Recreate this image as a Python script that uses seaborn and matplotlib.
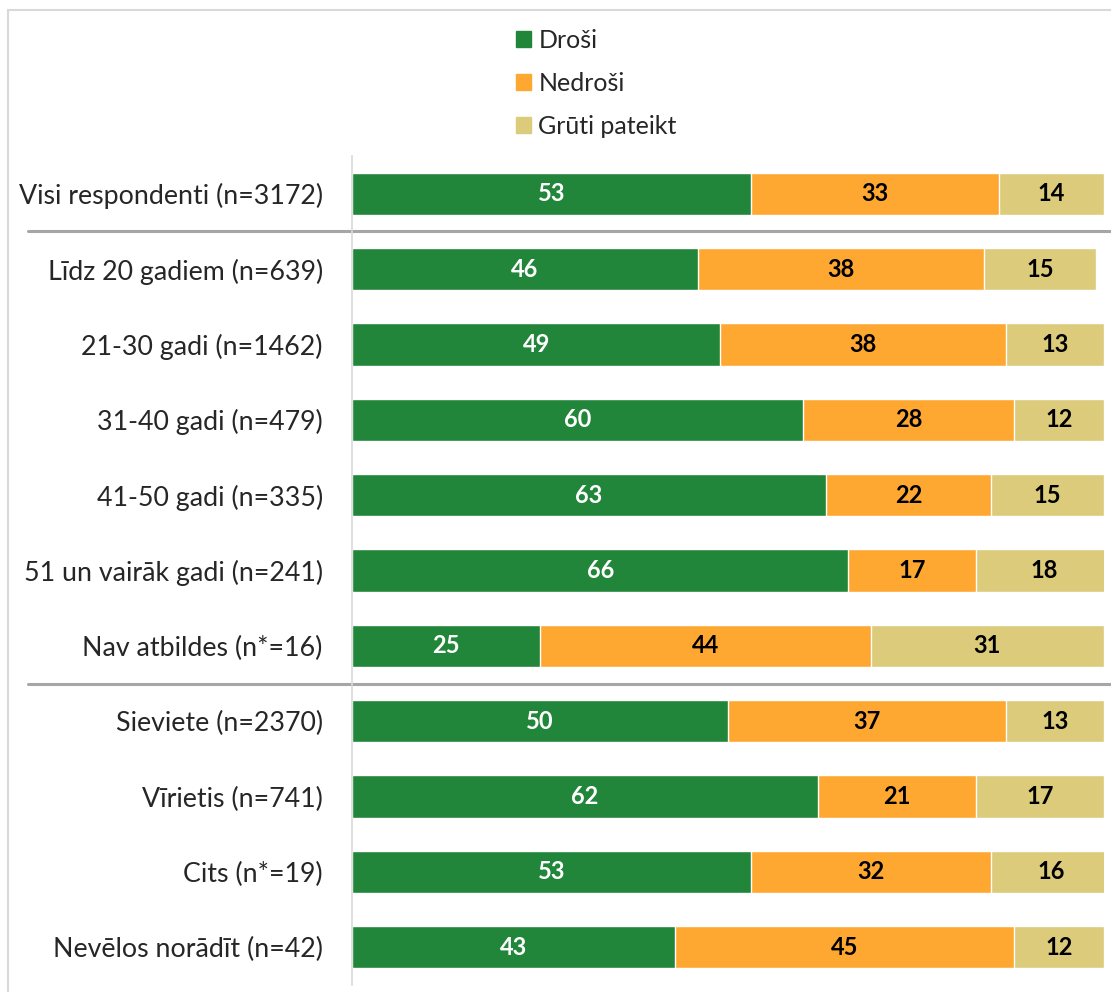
import numpy as np
import pandas as pd
import matplotlib.pyplot as plt
import matplotlib.transforms as mtransforms
from matplotlib.patches import Rectangle, Patch
import seaborn as sns

groups = ['Visi respondenti (n=3172)', 'Līdz 20 gadiem (n=639)', '21-30 gadi (n=1462)',
          '31-40 gadi (n=479)', '41-50 gadi (n=335)', '51 un vairāk gadi (n=241)',
          'Nav atbildes (n*=16)', 'Sieviete (n=2370)', 'Vīrietis (n=741)',
          'Cits (n*=19)', 'Nevēlos norādīt (n=42)']
drosi = [53, 46, 49, 60, 63, 66, 25, 50, 62, 53, 43]
nedrosi = [33, 38, 38, 28, 22, 17, 44, 37, 21, 32, 45]
gruti = [14, 15, 13, 12, 15, 18, 31, 13, 17, 16, 12]
series = ['Droši', 'Nedroši', 'Grūti pateikt']
colors = ['#22863A', '#FEA832', '#DBCB7A']
text_colors = ['white', 'black', 'black']
separators = [0.5, 6.5]

sns.set_style('white')
plt.rcParams['font.family'] = ['Lato', 'DejaVu Sans']

df = pd.DataFrame({'group': groups, series[0]: drosi, series[1]: nedrosi, series[2]: gruti})
cum = df[series].cumsum(axis=1)

fig = plt.figure(figsize=(11.11, 9.92), dpi=100)
ax = fig.add_axes([352 / 1111, 7 / 992, 752 / 1111, 829 / 992])

# stacked bars: draw cumulative totals back to front
for s, c in reversed(list(zip(series, colors))):
    sns.barplot(data=cum.assign(group=df['group']), x=s, y='group', orient='h',
                color=c, width=0.56, saturation=1, ax=ax, label=s)

# value labels centered in each segment
for s, tc in zip(series, text_colors):
    for i, (v, end) in enumerate(zip(df[s], cum[s])):
        ax.text(end - v / 2, i, str(v), ha='center', va='center', color=tc,
                fontsize=17, fontweight='bold')

ax.set_xlim(0, 100)
ax.set_ylim(len(groups) - 0.5, -0.5)
ax.set_xlabel('')
ax.set_ylabel('')
ax.set_xticks([])
ax.tick_params(axis='y', length=0, pad=21, labelsize=19.3, labelcolor='#262626')
for sp in ['top', 'right', 'bottom']:
    ax.spines[sp].set_visible(False)
ax.spines['left'].set_color('#D9D9D9')
ax.spines['left'].set_linewidth(1.2)

trans = mtransforms.blended_transform_factory(ax.transAxes, ax.transData)
for y in separators:
    ax.plot([-324 / 752, 1.02], [y, y], color='#A6A6A6', lw=2.2, transform=trans, clip_on=False)

ax.legend([Patch(color=c) for c in colors], series, loc='upper left',
          bbox_to_anchor=(516 / 1111, 1 - 29 / 992), bbox_transform=fig.transFigure,
          frameon=False, fontsize=18, handlelength=0.6, handleheight=0.6,
          handletextpad=0.3, labelspacing=0.8, borderaxespad=0, borderpad=0)

fig.patches.append(Rectangle((8 / 1111, -0.1), 1.2, 1.1 - 10 / 992, transform=fig.transFigure,
                             fill=False, edgecolor='#D9D9D9', lw=1.5))

fig.savefig('out.png', dpi=100)
